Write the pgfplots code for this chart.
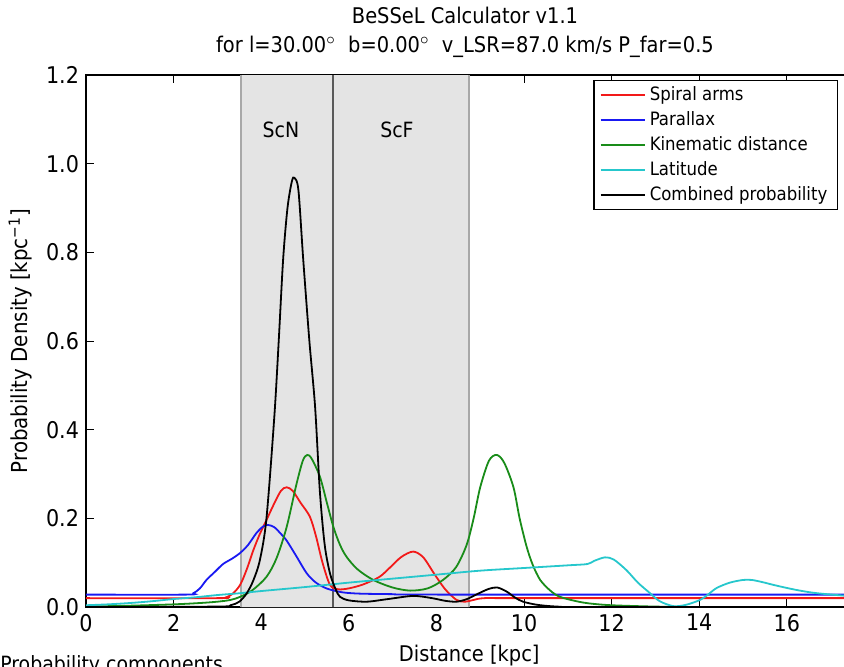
\documentclass[border=0pt]{standalone}
\usepackage{pgfplots}
\pgfplotsset{compat=1.18}
\usepackage{fontspec}
\setmainfont{DejaVu Sans Condensed}
\definecolor{mred}{rgb}{0.95,0.1,0.1}
\definecolor{mblue}{rgb}{0.1,0.1,0.95}
\definecolor{mgreen}{rgb}{0.1,0.55,0.1}
\definecolor{mcyan}{rgb}{0.15,0.78,0.8}
\definecolor{shade}{HTML}{E4E4E4}
\definecolor{shedge}{HTML}{A8A8A8}
\begin{document}
\begin{tikzpicture}
\begin{axis}[
  scale only axis, width=383.25pt, height=266pt,
  xmin=0, xmax=17.5, ymin=0, ymax=1.2,
  xtick={0,2,...,16}, ytick={0,0.2,...,1.2},
  tick align=inside, major tick length=4pt,
  minor tick num=0,
  tick style={black, line width=0.5pt},
  axis line style={black, line width=0.8pt},
  /pgf/number format/assume math mode=true,
  yticklabel style={/pgf/number format/fixed, /pgf/number format/fixed zerofill, /pgf/number format/precision=1, font=\fontsize{11.5}{12}\selectfont},
  xticklabel style={font=\fontsize{11.5}{12}\selectfont},
  scaled y ticks=false,
  xlabel={Distance [kpc]},
  ylabel={Probability Density [kpc\textsuperscript{−1}]},
  xlabel style={font=\fontsize{10.8}{12}\selectfont},
  ylabel style={font=\fontsize{11}{12}\selectfont},
  legend cell align=left,
  legend style={at={(rel axis cs:0.9811,0.9906)}, anchor=north east, font=\fontsize{9.2}{10}\selectfont, draw=black, line width=0.6pt, row sep=0pt, inner xsep=3pt, inner ysep=1pt},
  legend image code/.code={\draw[#1, line width=0.8pt] (0pt,0pt) -- (13pt,0pt); \path (0pt,0pt) -- (22pt,0pt);},
  clip=true,
]
% shaded regions
\addplot[fill=shade, draw=none, forget plot] coordinates {(3.54,0) (3.54,1.2) (5.64,1.2) (5.64,0)} \closedcycle;
\addplot[fill=shade, draw=none, forget plot] coordinates {(5.64,0) (5.64,1.2) (8.74,1.2) (8.74,0)} \closedcycle;
\addplot[shedge, line width=1pt, forget plot] coordinates {(3.54,0) (3.54,1.2)};
\addplot[shedge, line width=1pt, forget plot] coordinates {(8.74,0) (8.74,1.2)};
\addplot[black!65, line width=1pt, forget plot] coordinates {(5.64,0) (5.64,1.2)};
\node[font=\fontsize{10.5}{12}\selectfont] at (axis cs:4.45,1.076) {ScN};
\node[font=\fontsize{10.5}{12}\selectfont] at (axis cs:7.1,1.076) {ScF};
% spiral arms
\addplot[mred, line width=0.9pt, smooth] coordinates {
(0,0.02)(3.0,0.02)(3.2,0.022)(3.35,0.03)(3.52,0.05)(3.67,0.085)(3.82,0.128)(3.97,0.165)(4.12,0.196)(4.28,0.23)(4.45,0.262)(4.58,0.27)(4.72,0.262)(4.9,0.235)(5.11,0.204)(5.25,0.16)(5.4,0.1)(5.57,0.05)(5.75,0.04)(6.0,0.042)(6.33,0.051)(6.7,0.068)(6.95,0.09)(7.2,0.113)(7.47,0.125)(7.7,0.112)(7.95,0.075)(8.2,0.04)(8.46,0.016)(8.65,0.012)(8.85,0.016)(9.1,0.02)(10,0.02)(17.5,0.02)};
\addlegendentry{Spiral arms}
% parallax
\addplot[mblue, line width=0.9pt, smooth] coordinates {
(0,0.028)(2.3,0.028)(2.45,0.031)(2.6,0.042)(2.75,0.061)(2.95,0.08)(3.13,0.097)(3.35,0.11)(3.52,0.122)(3.7,0.14)(3.9,0.168)(4.05,0.182)(4.16,0.185)(4.3,0.18)(4.45,0.165)(4.58,0.15)(4.8,0.115)(5.04,0.076)(5.25,0.055)(5.49,0.042)(5.75,0.035)(5.95,0.032)(6.3,0.03)(7,0.029)(8,0.028)(17.5,0.028)};
\addlegendentry{Parallax}
% kinematic
\addplot[mgreen, line width=0.9pt, smooth] coordinates {
(0,0.001)(1,0.003)(2,0.006)(2.6,0.009)(3.0,0.012)(3.3,0.016)(3.52,0.023)(3.8,0.038)(4.12,0.068)(4.35,0.11)(4.58,0.18)(4.8,0.275)(4.95,0.33)(5.05,0.343)(5.15,0.335)(5.34,0.294)(5.5,0.235)(5.65,0.18)(5.8,0.14)(5.95,0.113)(6.2,0.085)(6.56,0.061)(7.0,0.044)(7.4,0.037)(7.8,0.042)(8.15,0.061)(8.45,0.09)(8.69,0.14)(8.85,0.2)(9.0,0.27)(9.2,0.33)(9.38,0.343)(9.55,0.325)(9.76,0.27)(9.9,0.2)(10.06,0.136)(10.2,0.095)(10.37,0.061)(10.6,0.037)(10.82,0.023)(11.2,0.013)(11.5,0.008)(12,0.004)(13,0.001)(14,0)(17.5,0)};
\addlegendentry{Kinematic distance}
% latitude
\addplot[mcyan, line width=0.9pt, smooth] coordinates {
(0,0.004)(0.5,0.006)(1,0.009)(1.5,0.013)(2,0.018)(2.5,0.022)(3,0.027)(3.5,0.031)(4,0.036)(5,0.045)(6,0.055)(7,0.064)(8,0.073)(9,0.082)(10,0.088)(11,0.094)(11.45,0.097)(11.6,0.104)(11.85,0.112)(12.05,0.107)(12.34,0.083)(12.6,0.055)(12.88,0.031)(13.1,0.013)(13.41,0.002)(13.7,0.005)(14.02,0.016)(14.2,0.028)(14.4,0.043)(14.7,0.055)(15.0,0.061)(15.2,0.061)(15.45,0.056)(15.69,0.05)(16,0.043)(16.3,0.037)(16.7,0.031)(17.5,0.024)};
\addlegendentry{Latitude}
% combined
\addplot[black, line width=0.9pt, smooth] coordinates {
(0,0)(3.0,0.001)(3.3,0.004)(3.5,0.012)(3.67,0.031)(3.82,0.06)(3.97,0.106)(4.12,0.2)(4.3,0.43)(4.4,0.6)(4.5,0.783)(4.6,0.9)(4.7,0.96)(4.76,0.968)(4.85,0.94)(4.96,0.783)(5.1,0.6)(5.23,0.452)(5.34,0.26)(5.45,0.14)(5.57,0.076)(5.7,0.04)(5.8,0.023)(6.0,0.015)(6.41,0.012)(6.9,0.018)(7.47,0.025)(7.9,0.02)(8.2,0.014)(8.46,0.012)(8.7,0.018)(8.95,0.03)(9.2,0.041)(9.39,0.044)(9.6,0.035)(9.8,0.021)(9.98,0.012)(10.3,0.005)(10.75,0.001)(11.5,0)(17.5,0)};
\addlegendentry{Combined probability}
\end{axis}
\node[anchor=base, font=\fontsize{10.8}{12}\selectfont, inner sep=0pt] at (189.5pt,277.5pt) {for l=30.00$^\circ$\ \ b=0.00$^\circ$\ \ v\_LSR=87.0 km/s P\_far=0.5};
\node[anchor=base, font=\fontsize{10.8}{12}\selectfont, inner sep=0pt] at (189.5pt,291.5pt) {BeSSeL Calculator v1.1};
\node[anchor=north west, font=\fontsize{10.5}{12}\selectfont, inner sep=0pt] at (-43pt,-24pt) {Probability components};
\pgfresetboundingbox
\useasboundingbox (-43pt,-29.5pt) rectangle (379pt,303.5pt);
\end{tikzpicture}
\end{document}
